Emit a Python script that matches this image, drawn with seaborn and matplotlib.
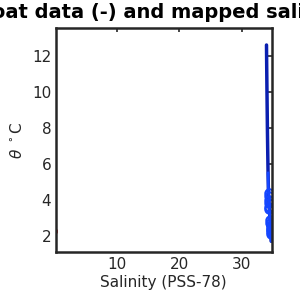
import numpy as np
import pandas as pd
import matplotlib
matplotlib.use("Agg")
import matplotlib.pyplot as plt
import seaborn as sns

# Float profile (line)
float_theta = [12.6, 11.5, 10.2, 9.0, 7.8, 6.6, 5.5, 4.6, 4.2, 3.8, 3.4, 3.0, 2.6, 2.3, 2.0, 1.7]
float_sal = [33.95, 33.98, 34.02, 34.06, 34.10, 34.15, 34.20, 34.25, 34.30, 34.35, 34.42, 34.50, 34.58, 34.63, 34.67, 34.70]

# Mapped salinity (circles)
map_theta = [4.4, 4.2, 4.0, 3.8, 3.6, 3.5, 2.9, 2.7, 2.6, 2.5, 2.4, 2.3, 2.2, 2.1]
map_sal = [34.30, 34.32, 34.33, 34.35, 34.37, 34.38, 34.55, 34.58, 34.60, 34.62, 34.63, 34.64, 34.65, 34.66]

# Flagged point (red)
bad_theta = [2.2, 2.3]
bad_sal = [0.3, 0.3]

sns.set_style("white")
fig, ax = plt.subplots(figsize=(3, 3), dpi=100)
fig.subplots_adjust(left=0.187, right=0.905, top=0.907, bottom=0.16)

df_f = pd.DataFrame({"S": float_sal, "T": float_theta})
df_m = pd.DataFrame({"S": map_sal, "T": map_theta})
df_b = pd.DataFrame({"S": bad_sal, "T": bad_theta})

sns.lineplot(data=df_f, x="S", y="T", sort=False, estimator=None, color="#0a1fb0", lw=2.5, ax=ax)
sns.lineplot(data=df_f.iloc[6:], x="S", y="T", sort=False, estimator=None, color="#1446ff", lw=2.0, ax=ax)
sns.lineplot(data=df_m, x="S", y="T", sort=False, estimator=None, color="#1446ff", lw=1.5, ax=ax)
ax.plot(df_m["S"], df_m["T"], "o", mfc="none", mec="#1446ff", ms=6, mew=1.5)
sns.lineplot(data=df_b, x="S", y="T", sort=False, estimator=None, color="#cc0000", lw=2, ax=ax)

ax.set_xlim(0.3, 34.75)
ax.set_ylim(1.1, 13.55)
ax.set_xticks([10, 20, 30])
ax.set_yticks([2, 4, 6, 8, 10, 12])
ax.tick_params(direction="in", top=True, right=True, length=3, width=1.2,
               labelsize=11, colors="#262626", labelcolor="#262626")
for s in ax.spines.values():
    s.set_color("#262626")
    s.set_linewidth(1.8)
ax.set_xlabel("Salinity (PSS-78)", fontsize=11, color="#262626", labelpad=2)
ax.set_ylabel(r"$\theta$ $^\circ$C", fontsize=11, color="#262626", labelpad=5)
ax.set_title("Float data (-) and mapped salinity", fontsize=14, fontweight="bold",
             color="black", pad=7, x=0.477)

fig.savefig("out.png", dpi=100)
